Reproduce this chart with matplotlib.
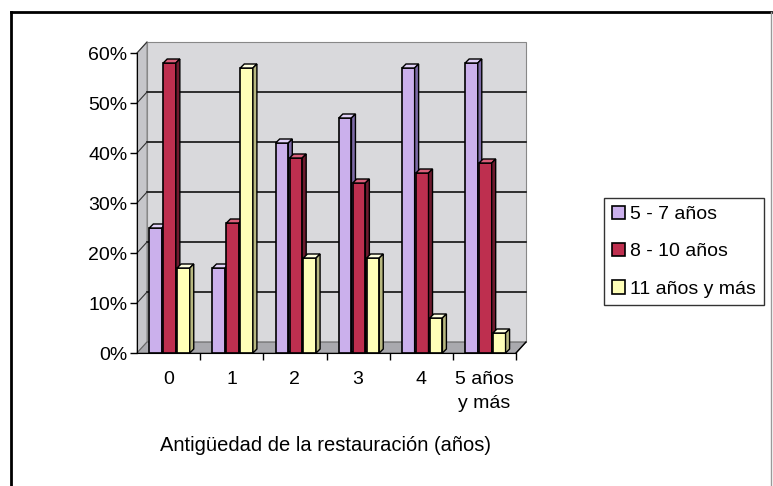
import matplotlib
matplotlib.use("Agg")
import matplotlib.pyplot as plt
from matplotlib.patches import Polygon, Rectangle, Patch
from matplotlib.lines import Line2D
from matplotlib.ticker import PercentFormatter

plt.rcParams['font.family'] = ['Liberation Sans', 'DejaVu Sans']

categories = ["0", "1", "2", "3", "4", "5 años\ny más"]
series_names = ["5 - 7 años", "8 - 10 años", "11 años y más"]
s_5_7 = [0.25, 0.17, 0.42, 0.47, 0.57, 0.58]
s_8_10 = [0.58, 0.26, 0.39, 0.34, 0.36, 0.38]
s_11 = [0.17, 0.57, 0.19, 0.19, 0.07, 0.04]
series = [s_5_7, s_8_10, s_11]

front = ["#CBB0EC", "#BE2F4F", "#FFFFB8"]
top = ["#E2D2F8", "#D9607A", "#FFFFE0"]
side = ["#7C6AA6", "#6E1A2E", "#B8B880"]

W, H = 773, 486
fig = plt.figure(figsize=(W / 100, H / 100), dpi=100)
ax_l, ax_r, ax_b, ax_t = 137, 516, 353, 53
ax = fig.add_axes([ax_l / W, 1 - ax_b / H, (ax_r - ax_l) / W, (ax_b - ax_t) / H])
ax.set_xlim(-0.5, 5.5)
ax.set_ylim(0, 0.6)
ax.set_facecolor("none")

# pixel -> data helpers for the fake 3d depth
px_x = 6 / (ax_r - ax_l)
px_y = 0.6 / (ax_b - ax_t)
dx, dy = 10 * px_x, 11 * px_y
bdx, bdy = 4 * px_x, 4 * px_y

# back wall, side wall and floor
ax.add_patch(Polygon([(-0.5 + dx, dy), (5.5 + dx, dy), (5.5 + dx, 0.6 + dy), (-0.5 + dx, 0.6 + dy)],
                     closed=True, facecolor="#D9D9DC", edgecolor="#888888", lw=0.8, clip_on=False, zorder=0))
ax.add_patch(Polygon([(-0.5, 0), (-0.5 + dx, dy), (-0.5 + dx, 0.6 + dy), (-0.5, 0.6)],
                     closed=True, facecolor="#C6C6CA", edgecolor="#888888", lw=0.8, clip_on=False, zorder=0))
ax.add_patch(Polygon([(-0.5, 0), (5.5, 0), (5.5 + dx, dy), (-0.5 + dx, dy)],
                     closed=True, facecolor="#A9A9AE", edgecolor="#666666", lw=0.8, clip_on=False, zorder=0))

yticks = [0, 0.1, 0.2, 0.3, 0.4, 0.5, 0.6]
for v in yticks[1:]:
    if v < 0.6:
        ax.plot([-0.5 + dx, 5.5 + dx], [v + dy, v + dy], color="black", lw=1.1, zorder=1, clip_on=False)
    ax.plot([-0.5, -0.5 + dx], [v, v + dy], color="#333333", lw=0.8, zorder=1, clip_on=False)

# bars with small 3d top and side faces
w, step, shift = 0.2, 0.22, 0.015
for i, vals in enumerate(series):
    for g, v in enumerate(vals):
        x0 = g + shift + (i - 1) * step - w / 2
        z = 2 + g * 3 + i
        ax.add_patch(Rectangle((x0, 0), w, v, facecolor=front[i], edgecolor="black", lw=1.2, zorder=z, clip_on=False))
        ax.add_patch(Polygon([(x0, v), (x0 + w, v), (x0 + w + bdx, v + bdy), (x0 + bdx, v + bdy)],
                             closed=True, facecolor=top[i], edgecolor="black", lw=1.0, zorder=z, clip_on=False))
        ax.add_patch(Polygon([(x0 + w, 0), (x0 + w + bdx, bdy), (x0 + w + bdx, v + bdy), (x0 + w, v)],
                             closed=True, facecolor=side[i], edgecolor="black", lw=1.0, zorder=z, clip_on=False))

ax.set_yticks(yticks)
ax.yaxis.set_major_formatter(PercentFormatter(1.0, decimals=0))
ax.set_xticks(range(6))
ax.set_xticklabels(categories, linespacing=1.55)
ax.set_xticks([0.5, 1.5, 2.5, 3.5, 4.5, 5.5], minor=True)
ax.tick_params(axis="x", which="major", length=0, pad=13, labelsize=14)
ax.tick_params(axis="x", which="minor", length=5, width=1, direction="out")
ax.tick_params(axis="y", length=5, width=1, direction="out", labelsize=14, pad=2)
for s in ["top", "right"]:
    ax.spines[s].set_visible(False)
ax.spines["left"].set_zorder(50)
ax.spines["bottom"].set_zorder(50)
ax.plot([5.5, 5.5 + dx], [0, dy], color="black", lw=1, clip_on=False, zorder=50)

fig.text(325 / W, 1 - 445 / H, "Antigüedad de la restauración (años)", ha="center", va="center", fontsize=14.5)

handles = [Patch(facecolor=front[i], edgecolor="black", lw=1.2, label=series_names[i]) for i in range(3)]
leg = fig.legend(handles=handles, loc="upper left", bbox_to_anchor=(604 / W, 1 - 198 / H),
                 frameon=True, fancybox=False, edgecolor="black", fontsize=14,
                 handlelength=0.7, handleheight=0.7, handletextpad=0.25, labelspacing=1.0,
                 borderpad=0.4, borderaxespad=0)
leg.get_frame().set_linewidth(1.0)

# outer chart frame
fig.add_artist(Line2D([11 / W, 11 / W], [0, 1 - 12 / H], color="black", lw=2, transform=fig.transFigure))
fig.add_artist(Line2D([11 / W, 771 / W], [1 - 12 / H, 1 - 12 / H], color="black", lw=2, transform=fig.transFigure))
fig.add_artist(Line2D([771 / W, 771 / W], [0, 1 - 12 / H], color="#999999", lw=1, transform=fig.transFigure))

fig.savefig("out.png", dpi=100)
